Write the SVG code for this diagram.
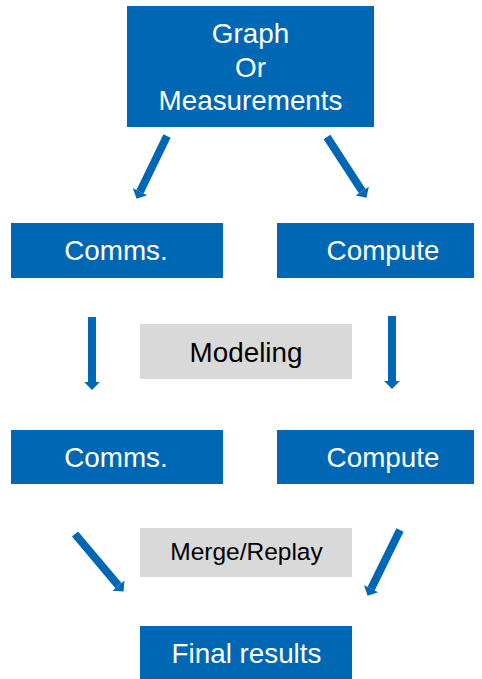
<svg xmlns="http://www.w3.org/2000/svg" width="482" height="679" viewBox="0 0 482 679">
  <style>
    .blue { fill: #0067B4; }
    .grey { fill: #D9D9D9; }
    .lbl { font-family: "Liberation Sans", Arial, sans-serif; font-size: 27.8px; text-anchor: middle; }
    .w { fill: #FFFFFF; }
    .k { fill: #000000; }
    .arrow { stroke: #0067B4; stroke-width: 8; fill: none; marker-end: url(#head); }
  </style>
  <defs>
    <marker id="head" markerUnits="userSpaceOnUse" markerWidth="10" markerHeight="18" viewBox="0 -8 8 16" refX="0" refY="0" orient="auto">
      <path d="M0,-7 L7,0 L0,7 Z" fill="#0067B4"/>
    </marker>
  </defs>

  <rect width="482" height="679" fill="#FFFFFF"/>

  <g id="source">
    <rect class="blue" x="127" y="6" width="247" height="121"/>
    <text class="lbl w" x="250.5" y="43">Graph</text>
    <text class="lbl w" x="250.5" y="76.5">Or</text>
    <text class="lbl w" x="250.5" y="110">Measurements</text>
  </g>

  <g id="comms-1">
    <rect class="blue" x="11" y="223" width="212" height="55"/>
    <text class="lbl w" x="116" y="259.5">Comms.</text>
  </g>

  <g id="compute-1">
    <rect class="blue" x="277" y="223" width="197" height="55"/>
    <text class="lbl w" x="383" y="259.5">Compute</text>
  </g>

  <g id="modeling">
    <rect class="grey" x="140" y="324" width="212" height="55"/>
    <text class="lbl k" x="246" y="362">Modeling</text>
  </g>

  <g id="comms-2">
    <rect class="blue" x="11" y="430" width="212" height="54"/>
    <text class="lbl w" x="116" y="466.5">Comms.</text>
  </g>

  <g id="compute-2">
    <rect class="blue" x="277" y="430" width="197" height="54"/>
    <text class="lbl w" x="383" y="466.5">Compute</text>
  </g>

  <g id="merge-replay">
    <rect class="grey" x="140" y="528" width="212" height="49"/>
    <text class="lbl k" x="246.5" y="560" style="font-size:24.5px">Merge/Replay</text>
  </g>

  <g id="final-results">
    <rect class="blue" x="140" y="626" width="212" height="53"/>
    <text class="lbl w" x="246.5" y="662.5">Final results</text>
  </g>

  <g id="connectors">
    <line class="arrow" x1="167" y1="136" x2="140" y2="191.7"/>
    <line class="arrow" x1="327" y1="137" x2="362.2" y2="191.1"/>
    <line class="arrow" x1="92" y1="317" x2="92" y2="382"/>
    <line class="arrow" x1="392" y1="316" x2="392" y2="381"/>
    <line class="arrow" x1="75" y1="534" x2="118.5" y2="585.6"/>
    <line class="arrow" x1="400" y1="530" x2="371.1" y2="588.7"/>
  </g>
</svg>
